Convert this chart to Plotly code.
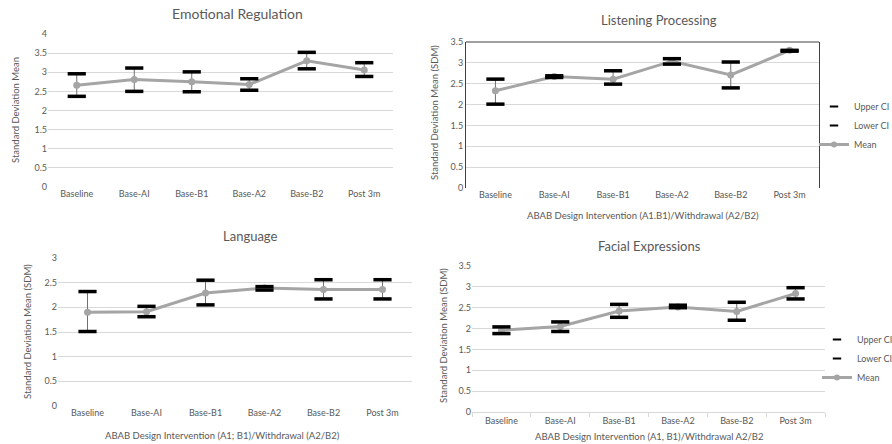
import plotly.graph_objects as go

categories = ["Baseline", "Base-AI", "Base-B1", "Base-A2", "Base-B2", "Post 3m"]

# Emotional Regulation
er_mean = [2.66, 2.81, 2.75, 2.68, 3.30, 3.06]
er_upper = [2.96, 3.11, 3.01, 2.83, 3.52, 3.25]
er_lower = [2.37, 2.50, 2.49, 2.53, 3.09, 2.89]

# Listening Processing
lp_mean = [2.33, 2.67, 2.61, 3.04, 2.71, 3.30]
lp_upper = [2.61, 2.69, 2.81, 3.10, 3.02, 3.30]
lp_lower = [2.01, 2.65, 2.49, 2.97, 2.40, 3.28]

# Language
la_mean = [1.90, 1.91, 2.29, 2.39, 2.36, 2.36]
la_upper = [2.32, 2.02, 2.55, 2.42, 2.56, 2.56]
la_lower = [1.51, 1.81, 2.05, 2.35, 2.17, 2.17]

# Facial Expressions
fe_mean = [1.96, 2.05, 2.42, 2.52, 2.41, 2.84]
fe_upper = [2.04, 2.16, 2.58, 2.56, 2.63, 2.98]
fe_lower = [1.88, 1.93, 2.27, 2.50, 2.20, 2.71]

W, H = 892, 444
FONT = "Lato"
TXT = "#595959"
GRID = "#D9D9D9"
MEAN_C = "#A5A5A5"

panels = [
    dict(name="Emotional Regulation", mean=er_mean, up=er_upper, lo=er_lower,
         x=(48, 393), y=(34, 187), ymax=4, legend=None),
    dict(name="Listening Processing", mean=lp_mean, up=lp_upper, lo=lp_lower,
         x=(466, 819), y=(42, 188), ymax=3.5, legend="legend"),
    dict(name="Language", mean=la_mean, up=la_upper, lo=la_lower,
         x=(58, 412), y=(258, 406), ymax=3, legend=None),
    dict(name="Facial Expressions", mean=fe_mean, up=fe_upper, lo=fe_lower,
         x=(472, 825), y=(266, 412), ymax=3.5, legend="legend2"),
]

fig = go.Figure()
layout = {}
for i, p in enumerate(panels, start=1):
    xa = "x" if i == 1 else f"x{i}"
    ya = "y" if i == 1 else f"y{i}"
    up_err = [u - m for u, m in zip(p["up"], p["mean"])]
    lo_err = [m - l for m, l in zip(p["mean"], p["lo"])]
    fig.add_trace(go.Scatter(
        x=categories, y=p["mean"], xaxis=xa, yaxis=ya, name="Mean",
        mode="lines+markers", line=dict(color=MEAN_C, width=3),
        marker=dict(color=MEAN_C, size=7),
        error_y=dict(type="data", symmetric=False, array=up_err, arrayminus=lo_err,
                     color="#707070", thickness=1, width=0),
        showlegend=False))
    fig.add_trace(go.Scatter(
        x=categories, y=p["up"], xaxis=xa, yaxis=ya, name="Upper CI",
        mode="markers", marker=dict(symbol="line-ew", size=13, line=dict(color="black", width=3.5)),
        showlegend=False))
    fig.add_trace(go.Scatter(
        x=categories, y=p["lo"], xaxis=xa, yaxis=ya, name="Lower CI",
        mode="markers", marker=dict(symbol="line-ew", size=13, line=dict(color="black", width=3.5)),
        showlegend=False))
    if p["legend"] is not None:
        lg = p["legend"]
        fig.add_trace(go.Scatter(x=[None], y=[None], xaxis=xa, yaxis=ya, name="Upper CI",
                                 mode="markers", legend=lg, legendrank=1,
                                 marker=dict(symbol="line-ew", size=6, line=dict(color="black", width=2))))
        fig.add_trace(go.Scatter(x=[None], y=[None], xaxis=xa, yaxis=ya, name="Lower CI",
                                 mode="markers", legend=lg, legendrank=2,
                                 marker=dict(symbol="line-ew", size=6, line=dict(color="black", width=2))))
        fig.add_trace(go.Scatter(x=[None], y=[None], xaxis=xa, yaxis=ya, name="Mean",
                                 mode="lines+markers", legend=lg, legendrank=3,
                                 line=dict(color=MEAN_C, width=3), marker=dict(color=MEAN_C, size=6)))

    key = "" if i == 1 else str(i)
    xd = [p["x"][0] / W, p["x"][1] / W]
    yd = [1 - p["y"][1] / H, 1 - p["y"][0] / H]
    xaxis = dict(domain=xd, anchor=ya, type="category", range=[-0.5, 5.5],
                 showgrid=False, zeroline=False,
                 tickfont=dict(family=FONT, size=9, color=TXT), ticklen=0)
    if i == 4:
        xaxis.update(showline=True, linecolor=GRID, linewidth=1,
                     ticks="outside", tickson="boundaries", ticklen=4, tickcolor=GRID)
    else:
        xaxis.update(showline=False, ticks="")
    yaxis = dict(domain=yd, anchor=xa, range=[0, p["ymax"]], dtick=0.5,
                 showgrid=True, gridcolor=GRID, gridwidth=1, zeroline=False,
                 tickfont=dict(family=FONT, size=9, color=TXT), ticks="",
                 tickformat="~g")
    if i == 2:
        yaxis.update(showline=True, mirror=True, linecolor="#404040", linewidth=1)
    else:
        yaxis.update(showline=False)
    layout["xaxis" + key] = xaxis
    layout["yaxis" + key] = yaxis

fig.update_layout(**layout)

fig.add_shape(type="line", xref="x2 domain", yref="y2 domain", x0=0, x1=1, y0=1, y1=1,
              line=dict(color="#404040", width=1))

annotations = [
    dict(text="Emotional Regulation", x=237 / W, y=1 - 13 / H, size=14),
    dict(text="Listening Processing", x=659 / W, y=1 - 20 / H, size=13),
    dict(text="Language", x=251 / W, y=1 - 236 / H, size=13),
    dict(text="Facial Expressions", x=649 / W, y=1 - 246 / H, size=13),
    dict(text="ABAB Design Intervention (A1.B1)/Withdrawal (A2/B2)", x=643 / W, y=1 - 215 / H, size=9.5),
    dict(text="ABAB Design Intervention (A1; B1)/Withdrawal (A2/B2)", x=222 / W, y=1 - 435 / H, size=9.5),
    dict(text="ABAB Design Intervention (A1, B1)/Withdrawal A2/B2", x=649 / W, y=1 - 436 / H, size=9.5),
]
for a in annotations:
    fig.add_annotation(text=a["text"], x=a["x"], y=a["y"], xref="paper", yref="paper",
                       showarrow=False, xanchor="center", yanchor="middle",
                       font=dict(family=FONT, size=a["size"], color=TXT))

ytitles = [
    dict(text="Standard Deviation Mean", x=15, y=110),
    dict(text="Standard Deviation Mean (SDM)", x=435, y=113),
    dict(text="Standard Deviation Mean (SDM)", x=27, y=332),
    dict(text="Standard Deviation Mean (SDM)", x=443, y=336),
]
for a in ytitles:
    fig.add_annotation(text=a["text"], x=a["x"] / W, y=1 - a["y"] / H, xref="paper", yref="paper",
                       showarrow=False, textangle=-90, xanchor="center", yanchor="middle",
                       font=dict(family=FONT, size=9.5, color=TXT))

legend_common = dict(xanchor="left", yanchor="top", font=dict(family=FONT, size=9, color=TXT),
                     bgcolor="rgba(0,0,0,0)", itemwidth=30, tracegroupgap=0)
fig.update_layout(
    width=W, height=H, autosize=False,
    margin=dict(l=0, r=0, t=0, b=0, pad=0, autoexpand=False),
    paper_bgcolor="white", plot_bgcolor="white",
    legend=dict(x=814 / W, y=1 - 92 / H, **legend_common),
    legend2=dict(x=817 / W, y=1 - 325 / H, **legend_common),
)

fig.write_html("out.html", config={"displayModeBar": False},
               post_script="document.body.style.margin='0';document.body.style.overflow='hidden';")
